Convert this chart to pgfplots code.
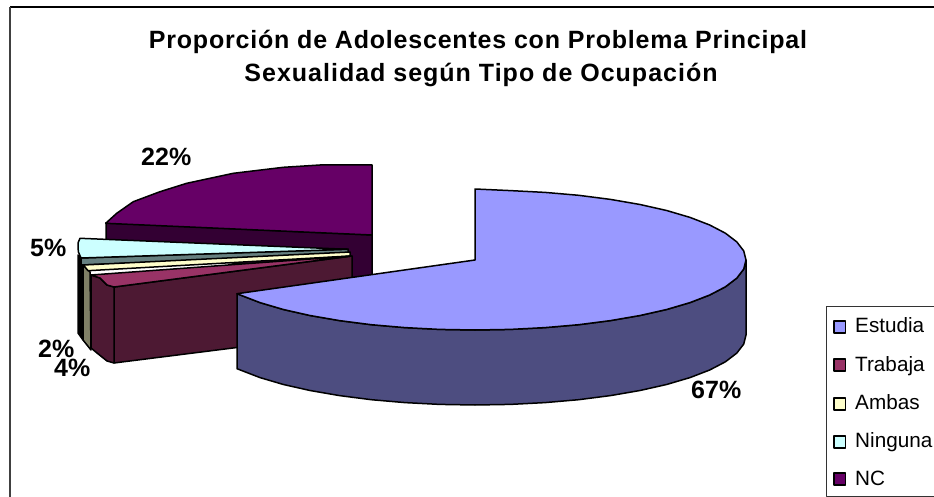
\documentclass[border=0pt]{standalone}
\usepackage{pgfplots}
\pgfplotsset{compat=1.18}
\usepackage{fontspec}
\setmainfont{Liberation Sans}
\newfontfamily\titleA[LetterSpace=3.2]{Liberation Sans}
\newfontfamily\titleB[LetterSpace=4.0]{Liberation Sans}
\definecolor{cEst}{HTML}{9999FF}
\definecolor{cEstS}{HTML}{4D4D80}
\definecolor{cTra}{HTML}{993366}
\definecolor{cTraS}{HTML}{4D1933}
\definecolor{cAmb}{HTML}{FFFFCC}
\definecolor{cAmbS}{HTML}{808066}
\definecolor{cNin}{HTML}{CCFFFF}
\definecolor{cNinS}{HTML}{668080}
\definecolor{cNC}{HTML}{660066}
\definecolor{cNCS}{HTML}{330033}
\newcommand{\lbl}{\fontsize{25}{30}\selectfont\bfseries}
\newcommand{\leg}{\fontsize{20.7}{24}\selectfont}
\begin{document}
\begin{tikzpicture}
\begin{axis}[
  at={(0,0)},anchor=south west,
  width=934pt,height=497pt,scale only axis,
  xmin=0,xmax=934,ymin=0,ymax=497,y dir=reverse,
  hide axis,clip=true,
  every axis plot/.append style={line width=1.5pt,line join=round}]
% background
\addplot[fill=white,draw=none] coordinates {(0,0)(934,0)(934,497)(0,497)} --cycle;
% frame
\addplot[draw=black,line width=1.3pt] coordinates {(934,7)(10,7)};
\addplot[draw=black!75,line width=1.6pt] coordinates {(10,7)(10,497)};
% NC rim and face
\addplot[fill=cNCS,draw=black] coordinates {(106,223)(372,235)(372,275)(352,280)(106,245)} --cycle;
\addplot[fill=cNC,draw=black] coordinates {(105.7,223.3)(116.7,213.3)(133.3,201.7)(160,191.7)(186.7,183.3)(233.3,173.3)(283.3,167.3)(320,165)(372,165)(372,235)} --cycle;
% Ninguna
\addplot[fill=black,draw=black] coordinates {(78,255)(83,262)(83,340)(78,333)} --cycle;
\addplot[fill=cNinS,draw=black] coordinates {(81,258)(348,249)(348,255)(81,265)} --cycle;
\addplot[fill=cNin,draw=black] coordinates {(80,238.3)(348,249.3)(81,258)(78.3,251.7)(78,243)} --cycle;
% Ambas
\addplot[fill=cAmbS,draw=black] coordinates {(83,265)(90,272)(91,350)(83,340)} --cycle;
\addplot[fill=cAmb,draw=black] coordinates {(83.5,265)(350,252)(350,256)(88,270.7)} --cycle;
% Trabaja
\addplot[fill=cTraS,draw=black] coordinates {(114,287)(352,256)(352,333)(114,363)} --cycle;
\addplot[fill=cTraS,draw=black] coordinates {(91,275)(100,278)(107,285)(114,287)(114,363)(107,361)(97,353)(91,348)} --cycle;
\addplot[fill=cTra,draw=black] coordinates {(91,275)(351.7,256)(114,287)(107,285)(100,278)} --cycle;
% Estudia rim
\addplot[fill=cEstS,draw=black] coordinates {(746,260)(746,335)(743.7,344.1)(736.8,353.1)(725.4,361.8)(709.7,370)(690,377.6)(666.6,384.5)(640,390.5)(610.5,395.6)(578.7,399.7)(545.1,402.6)(510.4,404.4)(475,405)(439.6,404.4)(404.9,402.6)(371.3,399.7)(339.5,395.6)(310,390.5)(283.4,384.5)(260,377.6)(240.3,370)(237,368.7)(237,293.7)(240.3,295)(260,302.6)(283.4,309.5)(310,315.5)(339.5,320.6)(371.3,324.7)(404.9,327.6)(439.6,329.4)(475,330)(510.4,329.4)(545.1,327.6)(578.7,324.7)(610.5,320.6)(640,315.5)(666.6,309.5)(690,302.6)(709.7,295)(725.4,286.8)(736.8,278.1)(743.7,269.1)} --cycle;
% Estudia top
\addplot[fill=cEst,draw=black] coordinates {(475,260)(475,189)(510.4,190.6)(545.1,192.4)(578.7,195.3)(610.5,199.4)(640,204.5)(666.6,210.5)(690,217.4)(709.7,225)(725.4,233.2)(736.8,241.9)(743.7,250.9)(746,260)(743.7,269.1)(736.8,278.1)(725.4,286.8)(709.7,295)(690,302.6)(666.6,309.5)(640,315.5)(610.5,320.6)(578.7,324.7)(545.1,327.6)(510.4,329.4)(475,330)(439.6,329.4)(404.9,327.6)(371.3,324.7)(339.5,320.6)(310,315.5)(283.4,309.5)(260,302.6)(240.3,295)(237,293.7)} --cycle;
% legend
\addplot[draw=black!80,line width=1pt] coordinates {(934,306.5)(826,306.5)(826,496.5)(934,496.5)};
\addplot[fill=cEst,draw=black] coordinates {(834,321)(845.5,321)(845.5,333)(834,333)} --cycle;
\addplot[fill=cTra,draw=black] coordinates {(834,359)(845.5,359)(845.5,371)(834,371)} --cycle;
\addplot[fill=cAmb,draw=black] coordinates {(834,398)(845.5,398)(845.5,410)(834,410)} --cycle;
\addplot[fill=cNin,draw=black] coordinates {(834,436)(845.5,436)(845.5,448)(834,448)} --cycle;
\addplot[fill=cNC,draw=black] coordinates {(834,473)(845.5,473)(845.5,485)(834,485)} --cycle;
\node[anchor=base west,inner sep=0pt] at (axis cs:855,332.7) {\leg Estudia};
\node[anchor=base west,inner sep=0pt] at (axis cs:855,371) {\leg Trabaja};
\node[anchor=base west,inner sep=0pt] at (axis cs:855,409) {\leg Ambas};
\node[anchor=base west,inner sep=0pt] at (axis cs:855,447) {\leg Ninguna};
\node[anchor=base west,inner sep=0pt] at (axis cs:855,485) {\leg NC};
% labels
\node[anchor=base west,inner sep=0pt] at (axis cs:141,166) {\lbl 22\%};
\node[anchor=base west,inner sep=0pt] at (axis cs:30,256) {\lbl 5\%};
\node[anchor=base west,inner sep=0pt] at (axis cs:38,357) {\lbl 2\%};
\node[anchor=base west,inner sep=0pt] at (axis cs:54,376) {\lbl 4\%};
\node[anchor=base west,inner sep=0pt] at (axis cs:691,398) {\lbl 67\%};
% title
\node[anchor=base,inner sep=0pt] at (axis cs:478,48.3) {\fontsize{25}{30}\selectfont\titleA\bfseries Proporción de Adolescentes con Problema Principal};
\node[anchor=base,inner sep=0pt] at (axis cs:481,82) {\fontsize{25}{30}\selectfont\titleB\bfseries Sexualidad según Tipo de Ocupación};
\end{axis}
\end{tikzpicture}
\end{document}
